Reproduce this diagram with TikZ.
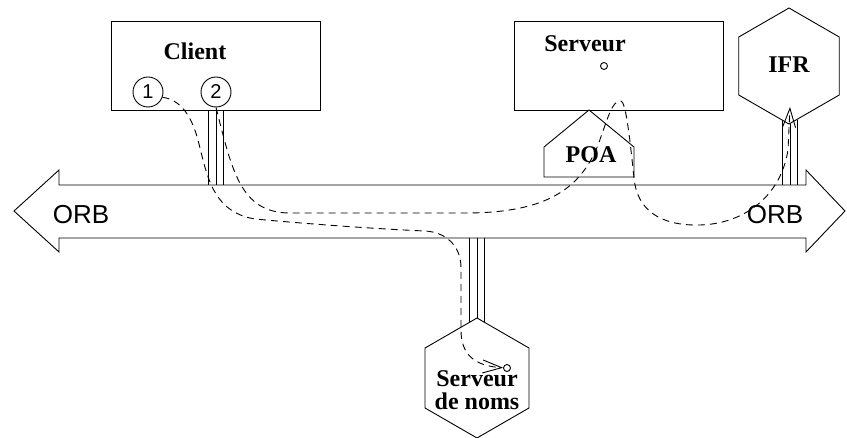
\documentclass[tikz,border=0pt]{standalone}
\usepackage{fontspec}
\setmainfont{Liberation Serif}
\setsansfont{Liberation Sans}
\usetikzlibrary{arrows.meta}

\begin{document}
\begin{tikzpicture}[x=1pt, y=-1pt, line width=0.9pt]
  \tikzset{
    box/.style={draw, minimum width=209pt, minimum height=89pt},
    title/.style={font=\fontsize{24}{23}\selectfont\bfseries, inner sep=0pt},
    bus/.style={font=\sffamily\fontsize{26}{26}\selectfont, inner sep=0pt},
    num/.style={circle, draw, minimum size=30pt, inner sep=0pt, font=\sffamily\fontsize{20}{20}\selectfont},
    obj/.style={circle, draw, minimum size=7pt, inner sep=0pt},
    flow/.style={dash pattern=on 7pt off 5pt, -{Straight Barb[length=19pt,width=13pt]}},
  }
  \useasboundingbox (0,0) rectangle (847,438);

  {
    % the bus, drawn as a double arrow
    \draw (14,211) -- (59,170) -- (59,185) -- (806,185) -- (806,170) -- (845,211)
      -- (806,252) -- (806,238) -- (59,238) -- (59,252) -- cycle;
    \node[bus, anchor=base] (orb-l) at (81,224) {ORB};
    \node[bus, anchor=base] (orb-r) at (775,224) {ORB};

    \node[box] (client) at (215.5,65.5) {};
    \node[box] (serveur) at (618.5,65.5) {};
    \node[title, anchor=base] (client-lbl) at (195,60) {Client};
    \node[title, anchor=base] (serveur-lbl) at (585,52) {Serveur};
    \node[num] (c1) at (148,92) {1};
    \node[num] (c2) at (216,92) {2};
    \node[obj] (srv-obj) at (604,66) {};

    % adaptateur sous le serveur
    \draw (589,110) -- (634,147) -- (634,177) -- (544,177) -- (544,147) -- cycle;
    \node[title, anchor=base] (poa) at (591,163) {POA};

    % hexagones
    \coordinate (ifr-c) at (789,66);
    \draw (ifr-c) +(90:58) -- +(30:58) -- +(-30:58) -- +(-90:58) -- +(-150:58) -- +(150:58) -- cycle;
    \node[title, anchor=base] (ifr) at (789,73) {IFR};
    \coordinate (ifr-in) at (790,107);

    \coordinate (ns-c) at (477,378);
    \draw (ns-c) +(90:60) -- +(30:60) -- +(-30:60) -- +(-90:60) -- +(-150:60) -- +(150:60) -- cycle;
    \node[title, align=center] (ns) at (477,390) {Serveur\\de noms};
    \node[obj] (ns-obj) at (507,368) {};
  }

  % liaisons vers le bus
  \coordinate (cl-pipe) at (216,110);
  \coordinate (ns-pipe) at (477,238);
  \coordinate (ifr-pipe) at (790,185);
  \foreach \dx in {-7.5,0,7.5} {
    \draw ([xshift=\dx]cl-pipe) -- ++(0,75);
    \draw ([xshift=\dx]ns-pipe) -- ++(0,{80+0.58*abs(\dx)});
    \draw ([xshift=\dx]ifr-pipe) -- ++(0,{-(61+0.58*abs(\dx))});
  }

  \draw[flow] (c1.-20) .. controls (182,100) and (192,118) .. (198,140)
    .. controls (207,175) and (212,212) .. (255,219)
    .. controls (330,226) and (400,230) .. (425,231)
    .. controls (445,232) and (461,245) .. (461,268)
    -- (461,330)
    .. controls (461,355) and (475,366) .. (ns-obj);
  \draw[flow] (c2.south) .. controls (232,170) and (240,213) .. (290,213)
    -- (470,213)
    .. controls (545,212) and (580,190) .. (598,145)
    .. controls (608,118) and (612,100) .. (621,101)
    .. controls (626,102) and (630,140) .. (634,178)
    .. controls (637,210) and (660,226) .. (700,225)
    .. controls (740,224) and (780,200) .. (788,150)
    -- (ifr-in);

\end{tikzpicture}
\end{document}
